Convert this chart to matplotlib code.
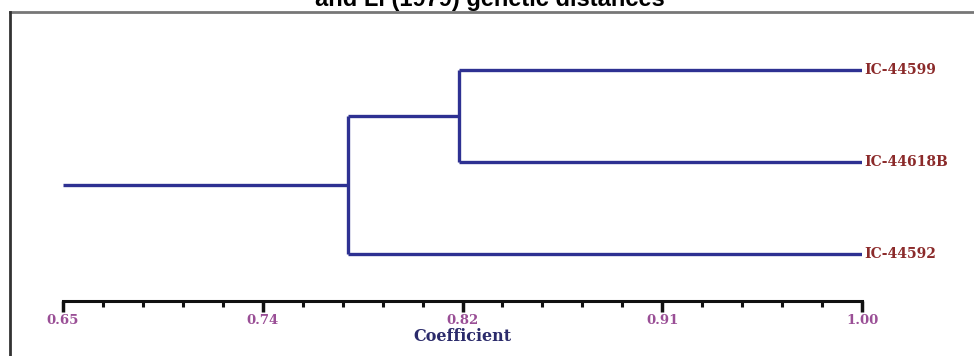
import numpy as np
import matplotlib.pyplot as plt
from matplotlib.lines import Line2D

# leaves, top to bottom
leaves = ['IC-44599', 'IC-44618B', 'IC-44592']
# merge coefficients: first (IC-44599 + IC-44618B), then with IC-44592
merge_coef = [0.8235, 0.775]
root_coef = 0.65
leaf_coef = 1.00

tick_pos = [0.65, 0.7375, 0.825, 0.9125, 1.00]
tick_labels = ['0.65', '0.74', '0.82', '0.91', '1.00']

line_col = '#2e3192'
serif = 'DejaVu Serif'
fig = plt.figure(figsize=(9.74, 3.56), dpi=100)
ax = fig.add_axes([63/974, 55/356, (862-63)/974, (301-50)/356])

# dendrogram
y_leaf = np.arange(len(leaves))
y1 = (y_leaf[0] + y_leaf[1]) / 2
y2 = (y1 + y_leaf[2]) / 2
kw = dict(color=line_col, lw=2.4, solid_capstyle='butt')
ax.plot([merge_coef[0], leaf_coef], [y_leaf[0]] * 2, **kw)
ax.plot([merge_coef[0], leaf_coef], [y_leaf[1]] * 2, **kw)
ax.plot([merge_coef[0]] * 2, [y_leaf[0], y_leaf[1]], **kw)
ax.plot([merge_coef[1], merge_coef[0]], [y1, y1], **kw)
ax.plot([merge_coef[1], leaf_coef], [y_leaf[2]] * 2, **kw)
ax.plot([merge_coef[1]] * 2, [y1, y_leaf[2]], **kw)
ax.plot([root_coef, merge_coef[1]], [y2, y2], **kw)

for y, name in zip(y_leaf, leaves):
    ax.text(leaf_coef + 0.001, y, name, color='#8b2a2a', fontsize=10,
            fontweight='bold', family=serif, va='center', ha='left')

ax.set_xlim(0.65, 1.00)
ax.set_ylim(2.511, -0.217)
for s in ['top', 'right', 'left']:
    ax.spines[s].set_visible(False)
ax.spines['bottom'].set_linewidth(2.2)
ax.spines['bottom'].set_color('#111111')
ax.set_yticks([])
ax.set_xticks(tick_pos)
ax.set_xticklabels(tick_labels, color='#9a4f96', fontsize=9.5,
                   fontweight='bold', family=serif)
ax.set_xticks(np.linspace(0.65, 1.00, 21), minor=True)
ax.tick_params(axis='x', which='major', length=8, width=2.5, color='#111111', pad=1)
ax.tick_params(axis='x', which='minor', length=4.5, width=2.2, color='#111111')
ax.set_xlabel('Coefficient', color='#2b2b6b', fontsize=11.5, fontweight='bold',
              family=serif, labelpad=1)
ax.patch.set_alpha(0)

# frame
fig.add_artist(Line2D([10/974, 1.0], [1 - 12/356] * 2, color='#777777', lw=2))
fig.add_artist(Line2D([10/974] * 2, [0, 1 - 12/356], color='#333333', lw=2))

# title (clipped at top, as in the source)
fig.text(490/974, 1 - 6/356, 'and Li (1979) genetic distances', ha='center',
         va='baseline', fontsize=17, fontweight='bold', family='Liberation Sans')

fig.savefig('out.png', dpi=100)
